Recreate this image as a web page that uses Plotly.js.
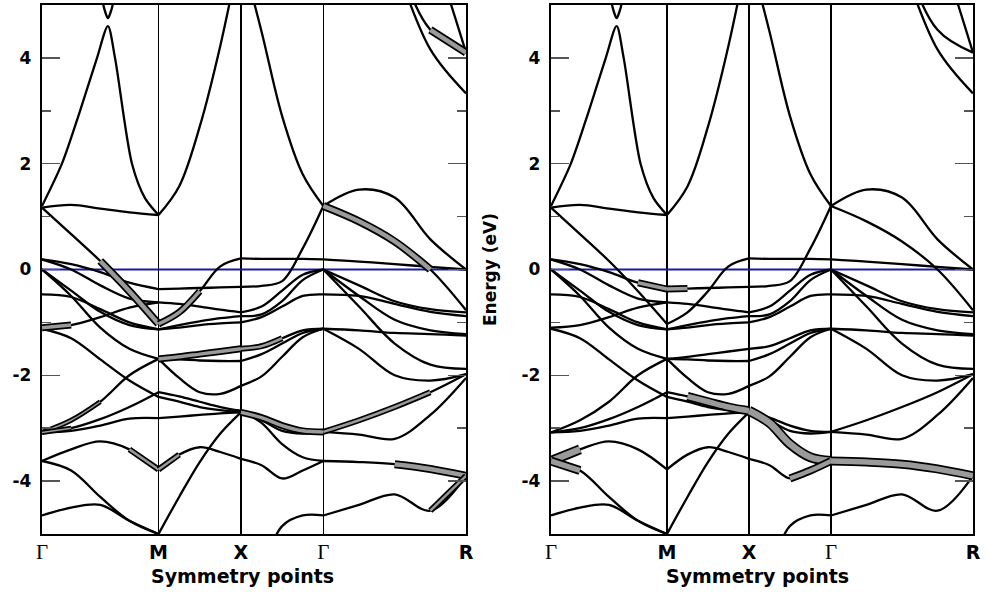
<!DOCTYPE html>
<html><head><meta charset="utf-8">
<script src="https://cdn.plot.ly/plotly-3.0.1.min.js"></script>
<style>html,body{margin:0;padding:0;background:#fff}#chart{width:988px;height:593px}</style>
</head><body><div id="chart"></div>
<script>
// high-symmetry path (simple cubic): Γ - M - X - Γ - R
const kTicks = [0, 0.7071, 1.2071, 1.7071, 2.5731];
const kLabels = ['Γ', 'M', 'X', 'Γ', 'R'];
const yTicks = [-4, -2, 0, 2, 4];
const yLabels = ['-4', '-2', '0', '2', '4'];
const yMinor = [-3, -1, 1, 3];
const segFrac = [0, 0.25, 0.5, 0.75, 1];

// band energies (eV) sampled at segFrac of each segment
const bandsGM = [
  [1.17, 1.22, 1.15, 1.08, 1.03],
  [1.17, 0.67, 0.16, -0.41, -1.03],
  [0.19, 0.10, -0.05, -0.25, -0.37],
  [0.19, 0.00, -0.30, -0.55, -0.62],
  [0.00, -0.40, -0.80, -1.05, -1.13],
  [0.00, -0.50, -1.10, -1.50, -1.69],
  [-0.47, -0.52, -0.75, -1.00, -1.13],
  [-1.10, -1.05, -0.90, -0.72, -0.62],
  [-1.12, -1.30, -1.70, -2.10, -2.41],
  [-3.08, -2.85, -2.50, -2.00, -1.69],
  [-3.08, -3.00, -2.83, -2.60, -2.32],
  [-3.08, -3.05, -2.95, -2.82, -2.81],
  [-3.62, -3.40, -3.25, -3.40, -3.78],
  [-3.62, -3.80, -4.30, -4.75, -5.00],
  [-4.65, -4.50, -4.45, -4.75, -5.00]
];
const bandsMX = [
  [1.03, 1.57, 2.70, 4.23, 6.10],
  [-1.03, -0.81, -0.41, 0.06, 0.21],
  [-0.37, -0.36, -0.35, -0.34, -0.33],
  [-0.62, -0.65, -0.70, -0.76, -0.81],
  [-1.13, -1.05, -0.98, -0.92, -0.88],
  [-1.13, -1.10, -1.05, -1.02, -1.00],
  [-1.69, -1.65, -1.60, -1.55, -1.50],
  [-1.69, -1.70, -1.72, -1.73, -1.73],
  [-2.32, -2.40, -2.50, -2.60, -2.67],
  [-2.41, -2.50, -2.60, -2.66, -2.70],
  [-2.81, -2.78, -2.75, -2.72, -2.70],
  [-3.78, -3.50, -3.36, -3.45, -3.58],
  [-5.00, -4.30, -3.64, -3.10, -2.70],
  [-1.69, -2.05, -2.32, -2.35, -2.20]
];
const bandsXG = [
  [6.00, 4.50, 2.90, 1.80, 1.20],
  [0.21, 0.20, 0.20, 0.20, 0.19],
  [-0.33, -0.31, -0.22, 0.40, 1.20],
  [-0.81, -0.70, -0.40, -0.10, 0.00],
  [-0.88, -0.85, -0.60, -0.20, 0.00],
  [-1.00, -0.90, -0.70, -0.50, -0.47],
  [-1.50, -1.45, -1.30, -1.15, -1.12],
  [-1.73, -1.60, -1.40, -1.20, -1.12],
  [-2.70, -2.80, -2.95, -3.05, -3.07],
  [-2.67, -2.90, -3.30, -3.55, -3.62],
  [-3.58, -3.70, -3.95, -3.80, -3.62],
  [-2.20, -2.02, -1.65, -1.28, -1.12],
  [-2.70, -2.85, -3.05, -3.10, -3.07],
  [-6.00, -5.60, -4.85, -4.65, -4.65]
];
const bandsGR = [
  [1.20, 1.51, 1.36, 0.57, 0.00],
  [1.20, 0.91, 0.53, 0.00, -0.77],
  [0.19, 0.15, 0.10, 0.05, 0.00],
  [0.00, -0.30, -0.60, -0.75, -0.81],
  [0.00, -0.50, -0.95, -1.15, -1.22],
  [0.00, -0.70, -1.40, -1.80, -1.88],
  [-0.47, -0.50, -0.65, -0.80, -0.88],
  [-1.12, -1.15, -1.20, -1.22, -1.25],
  [-1.12, -1.50, -2.00, -2.10, -1.98],
  [-3.07, -2.85, -2.60, -2.32, -1.98],
  [-3.07, -3.12, -3.20, -2.75, -2.05],
  [-3.62, -3.64, -3.68, -3.77, -3.90],
  [-4.65, -4.45, -4.25, -4.56, -3.90],
  [9.00, 7.50, 5.80, 4.16, 3.33],
  [9.00, 8.00, 6.00, 4.53, 4.10],
  [10.0, 9.00, 8.00, 6.20, 4.10]
];
// sharp conduction peak along Γ-M and the band dipping in from the top
const peakK = [0, 0.121, 0.231, 0.334, 0.400, 0.443, 0.546, 0.625, 0.7071];
const peakE = [1.20, 2.00, 3.00, 4.00, 4.60, 4.00, 2.00, 1.35, 1.03];
const capK = [0.352, 0.376, 0.400, 0.425, 0.449];
const capE = [5.40, 4.95, 4.75, 4.95, 5.40];
const fermiE = 0;

// fat-band (projected weight) stretches: [segment, band, firstIdx, lastIdx, width]
const fatLeft = [
  ['GM', 1, 2, 4, 8], ['MX', 1, 0, 2, 7],
  ['GM', 7, 0, 1, 7],
  ['MX', 6, 0, 4, 7], ['XG', 6, 0, 2, 6],
  ['GM', 9, 0, 2, 5], ['GM', 10, 0, 1, 5],
  ['GM', 12, 3, 4, 6], ['MX', 11, 0, 1, 6],
  ['XG', 8, 0, 4, 7], ['GR', 9, 0, 3, 6],
  ['GR', 11, 2, 4, 8], ['GR', 12, 3, 4, 6],
  ['GR', 1, 0, 3, 8],
  ['GR', 14, 3, 4, 8]
];
const fatRight = [
  ['GM', 2, 3, 4, 7], ['MX', 2, 0, 1, 7],
  ['GM', 12, 0, 1, 10], ['GM', 13, 0, 1, 9],
  ['MX', 8, 1, 4, 9],
  ['XG', 9, 0, 4, 10], ['XG', 10, 2, 4, 8],
  ['GR', 11, 0, 4, 9]
];

const segs = {GM: [0, bandsGM], MX: [1, bandsMX], XG: [2, bandsXG], GR: [3, bandsGR]};
function segK(si) {
  return segFrac.map(f => kTicks[si] + f * (kTicks[si + 1] - kTicks[si]));
}

const traces = [];
function panel(xa, ya, fat) {
  traces.push({x: [kTicks[0], kTicks[4]], y: [fermiE, fermiE], xaxis: xa, yaxis: ya,
    mode: 'lines', line: {color: '#1b1b9e', width: 2.2}, hoverinfo: 'skip'});
  for (const name of ['GM', 'MX', 'XG', 'GR']) {
    const [si, list] = segs[name];
    const kx = segK(si);
    for (const b of list) {
      traces.push({x: kx, y: b, xaxis: xa, yaxis: ya, mode: 'lines',
        line: {color: '#000', width: 2.3, shape: 'spline', smoothing: 1}, hoverinfo: 'skip'});
    }
  }
  traces.push({x: peakK, y: peakE, xaxis: xa, yaxis: ya, mode: 'lines',
    line: {color: '#000', width: 2.3, shape: 'spline', smoothing: 0.8}, hoverinfo: 'skip'});
  traces.push({x: capK, y: capE, xaxis: xa, yaxis: ya, mode: 'lines',
    line: {color: '#000', width: 2.3, shape: 'spline', smoothing: 0.6}, hoverinfo: 'skip'});
  for (const [name, bi, i0, i1, w] of fat) {
    const [si, list] = segs[name];
    const kx = segK(si).slice(i0, i1 + 1);
    const e = list[bi].slice(i0, i1 + 1);
    traces.push({x: kx, y: e, xaxis: xa, yaxis: ya, mode: 'lines',
      line: {color: '#000', width: w, shape: 'spline', smoothing: 1}, hoverinfo: 'skip'});
    traces.push({x: kx, y: e, xaxis: xa, yaxis: ya, mode: 'lines',
      line: {color: '#9a9a9a', width: Math.max(w - 3.5, 1.5), shape: 'spline', smoothing: 1}, hoverinfo: 'skip'});
  }
}
panel('x', 'y', fatLeft);
panel('x2', 'y2', fatRight);

const tickText = kLabels.map(s => s === 'Γ'
  ? '<span style="font-family:\'Liberation Serif\',serif;font-weight:normal;font-size:21px">Γ</span>' : s);
const bold = {family: 'DejaVu Sans, Liberation Sans, sans-serif', size: 19, color: '#000', weight: 'bold'};

function xax(dom, anchor) {
  return {domain: dom, anchor: anchor, range: [kTicks[0], kTicks[4]], tickvals: kTicks, ticktext: tickText,
    showgrid: true, gridcolor: '#000', gridwidth: 1.6, zeroline: false, ticks: '',
    showline: true, mirror: true, linecolor: '#000', linewidth: 2.2,
    tickfont: bold, ticklabelstandoff: 0, fixedrange: true};
}
function yax(anchor) {
  return {domain: [0.0995, 0.9916], anchor: anchor, range: [-5, 5], tickvals: yTicks, ticktext: yLabels,
    ticks: 'inside', ticklen: 18, tickwidth: 1.5, tickcolor: '#555', showgrid: false, zeroline: false,
    showline: true, mirror: 'ticks', linecolor: '#000', linewidth: 2.2,
    minor: {tickvals: yMinor, ticks: 'inside', ticklen: 9, tickwidth: 1.5, tickcolor: '#555'},
    tickfont: {family: 'DejaVu Sans, sans-serif', size: 17, color: '#000', weight: 'bold'},
    ticklabelstandoff: 5, fixedrange: true};
}

const layout = {
  width: 988, height: 593, margin: {l: 0, r: 0, t: 0, b: 0},
  paper_bgcolor: '#fff', plot_bgcolor: '#fff', showlegend: false,
  xaxis: xax([0.0425, 0.4717], 'y'),
  yaxis: yax('x'),
  xaxis2: xax([0.5577, 0.9848], 'y2'),
  yaxis2: yax('x2'),
  annotations: [
    {text: 'Symmetry points', xref: 'paper', yref: 'paper', x: 0.245, y: 0.028, showarrow: false,
      font: bold, xanchor: 'center', yanchor: 'middle'},
    {text: 'Symmetry points', xref: 'paper', yref: 'paper', x: 0.7665, y: 0.028, showarrow: false,
      font: bold, xanchor: 'center', yanchor: 'middle'},
    {text: 'Energy (eV)', xref: 'paper', yref: 'paper', x: 0.496, y: 0.5447, showarrow: false,
      textangle: -90, font: {family: 'DejaVu Sans, sans-serif', size: 17, color: '#000', weight: 'bold'},
      xanchor: 'center', yanchor: 'middle'}
  ]
};
Plotly.newPlot('chart', traces, layout, {staticPlot: true, displayModeBar: false});
</script></body></html>
